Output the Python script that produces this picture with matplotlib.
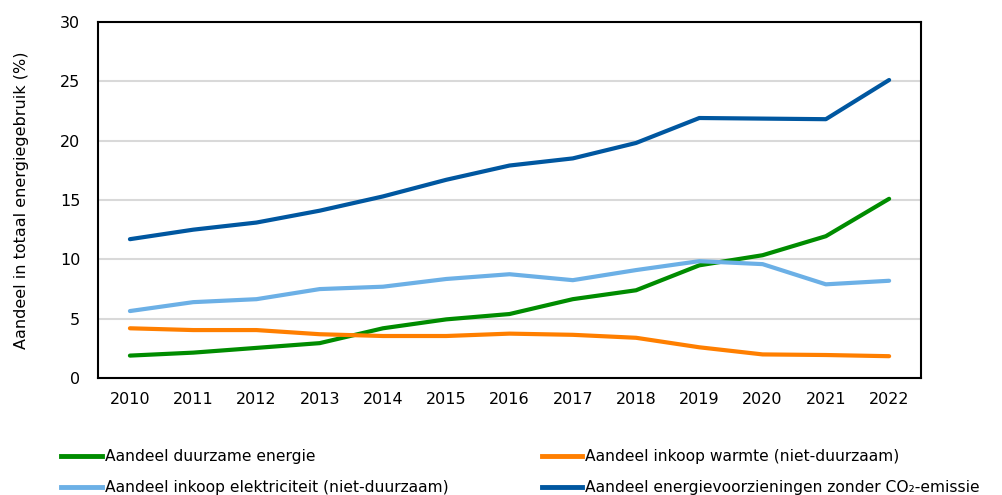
import matplotlib
matplotlib.use("Agg")
import matplotlib.pyplot as plt
from matplotlib.lines import Line2D

years = list(range(2010, 2023))
duurzaam = [1.9, 2.15, 2.55, 2.95, 4.2, 4.95, 5.4, 6.65, 7.4, 9.5, 10.35, 11.95, 15.1]
warmte = [4.2, 4.05, 4.05, 3.7, 3.55, 3.55, 3.75, 3.65, 3.4, 2.6, 2.0, 1.95, 1.85]
elektriciteit = [5.65, 6.4, 6.65, 7.5, 7.7, 8.35, 8.75, 8.25, 9.1, 9.85, 9.6, 7.9, 8.2]
zonder_co2 = [11.7, 12.5, 13.1, 14.1, 15.3, 16.7, 17.9, 18.5, 19.8, 21.9, 21.85, 21.8, 25.1]

labels = ["Aandeel duurzame energie",
          "Aandeel inkoop warmte (niet-duurzaam)",
          "Aandeel inkoop elektriciteit (niet-duurzaam)",
          "Aandeel energievoorzieningen zonder CO₂-emissie"]
colors = ["#008c00", "#ff7f00", "#6cb0e6", "#0057a0"]

plt.rcParams['font.family'] = ['DejaVu Sans']

fig = plt.figure(figsize=(10.03, 4.95), dpi=100)
ax = fig.add_axes([0.098, 0.236, 0.820, 0.720])

series = [duurzaam, warmte, elektriciteit, zonder_co2]
for vals, c in zip(series, colors):
    ax.plot(years, vals, color=c, linewidth=3, solid_capstyle='round', zorder=3)

ax.set_ylim(0, 30)
ax.set_xlim(2009.5, 2022.5)
ax.set_yticks(range(0, 31, 5))
ax.set_xticks(years)
ax.tick_params(axis='y', length=0, labelsize=11.5, pad=13)
ax.tick_params(axis='x', length=0, labelsize=11.5, pad=10)
ax.yaxis.grid(True, color="#d9d9d9", linewidth=1.5, zorder=0)
ax.set_axisbelow(True)
for s in ['left', 'bottom', 'right', 'top']:
    ax.spines[s].set_linewidth(1.5)
    ax.spines[s].set_color('black')
ax.set_ylabel("Aandeel in totaal energiegebruik (%)", fontsize=11.5, labelpad=22)

# legend order: column-wise fill
order = [0, 2, 1, 3]
handles = [Line2D([0], [0], color=colors[i], linewidth=3.5) for i in order]
fig.legend(handles, [labels[i] for i in order], ncol=2, loc='lower left',
           bbox_to_anchor=(0.047, -0.029), frameon=False, fontsize=11.2,
           handlelength=2.6, handletextpad=0.2, columnspacing=6.0, labelspacing=1.05)

fig.savefig("out.png", dpi=100)
